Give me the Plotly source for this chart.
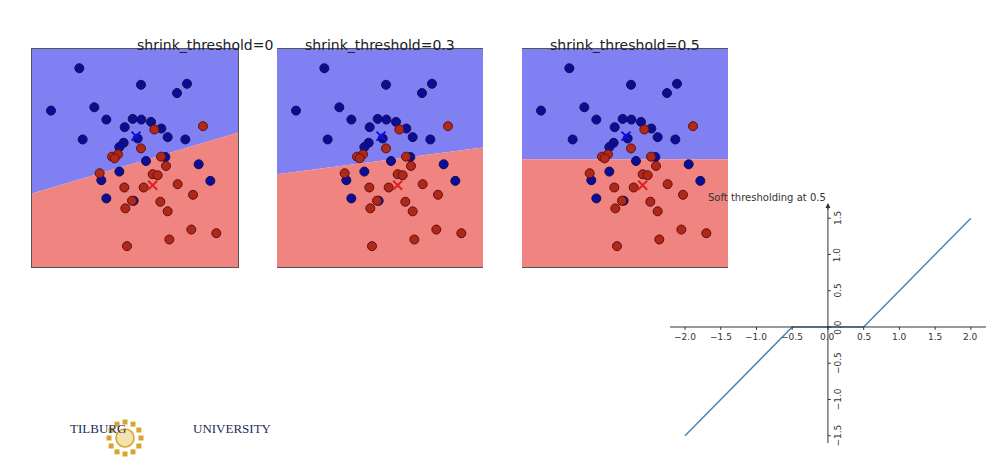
import plotly.graph_objects as go
import math

W, H = 994, 464
titles = ["shrink_threshold=0", "shrink_threshold=0.3", "shrink_threshold=0.5"]
# points in panel units (x 10..628, y 32..690 top-down)
blue_x = [152,337,475,445,67,197,233,312,338,367,288,398,417,162,327,470,285,272,352,410,510,545,272,218,233,315]
blue_y = [90,140,137,165,218,208,245,243,245,252,268,272,298,305,302,305,315,328,370,358,380,430,402,428,483,490]
red_x = [523,377,337,250,268,258,397,412,213,372,387,287,345,447,493,310,395,290,417,488,422,563,295]
red_y = [265,275,332,357,350,362,357,385,407,410,413,450,450,440,472,490,493,513,522,577,607,588,627]
centroid_x = [322, 372]
centroid_y = [295, 443]
# decision boundary y at left / right edge for each panel
bound_left = [468, 410, 365]
bound_right = [285, 329, 365]

soft_x = [-2.0, -0.5, 0.5, 2.0]
soft_y = [-1.5, 0.0, 0.0, 1.5]
xticks = [-2.0, -1.5, -1.0, -0.5, 0.0, 0.5, 1.0, 1.5, 2.0]
yticks = [-1.5, -1.0, -0.5, 0.0, 0.5, 1.0, 1.5]

fig = go.Figure()
panels_px = [(24, 230), (269, 475), (514, 720)]
top_px, bot_px = 41, 259
X0, X1, Y0, Y1 = 10, 628, 32, 690
for i, (l, r) in enumerate(panels_px):
    sx = "" if i == 0 else str(i + 1)
    fig.add_trace(go.Scatter(x=[X0, X1, X1, X0], y=[bound_left[i], bound_right[i], Y0, Y0], fill="toself",
                             fillcolor="#8080f2", line=dict(width=0), mode="lines", hoverinfo="skip",
                             xaxis="x" + sx, yaxis="y" + sx, showlegend=False))
    fig.add_trace(go.Scatter(x=[X0, X1, X1, X0], y=[bound_left[i], bound_right[i], Y1, Y1], fill="toself",
                             fillcolor="#f08480", line=dict(width=0), mode="lines", hoverinfo="skip",
                             xaxis="x" + sx, yaxis="y" + sx, showlegend=False))
    fig.add_trace(go.Scatter(x=blue_x, y=blue_y, mode="markers", xaxis="x" + sx, yaxis="y" + sx,
                             marker=dict(size=9, color="#0c0c96", line=dict(color="#101050", width=1)), showlegend=False))
    fig.add_trace(go.Scatter(x=red_x, y=red_y, mode="markers", xaxis="x" + sx, yaxis="y" + sx,
                             marker=dict(size=9, color="#b02818", line=dict(color="#601010", width=1)), showlegend=False))
    fig.add_trace(go.Scatter(x=centroid_x, y=centroid_y, mode="markers", xaxis="x" + sx, yaxis="y" + sx,
                             marker=dict(size=9, symbol="x-thin", color=["#1010e0", "#e02020"],
                                         line=dict(width=2, color=["#1010e0", "#e02020"])), showlegend=False))
    fig.update_layout(**{
        "xaxis" + sx: dict(domain=[l / W, r / W], range=[X0, X1], showticklabels=False, showgrid=False,
                           zeroline=False, showline=True, mirror=True, linecolor="#555", ticks=""),
        "yaxis" + sx: dict(domain=[1 - bot_px / H, 1 - top_px / H], range=[Y1, Y0], showticklabels=False,
                           showgrid=False, zeroline=False, showline=True, mirror=True, linecolor="#555", ticks=""),
    })
    fig.add_annotation(x=(l + r) / 2 / W, y=1 - 27 / H, xref="paper", yref="paper", text=titles[i],
                       showarrow=False, font=dict(family="DejaVu Sans", size=14, color="#222"))

# soft thresholding plot
xl, xr, yt, yb = 662, 985, 195, 435
fig.add_trace(go.Scatter(x=soft_x, y=soft_y, mode="lines", line=dict(color="#4f86b0", width=1.5),
                         xaxis="x4", yaxis="y4", showlegend=False))
fig.update_layout(
    xaxis4=dict(domain=[xl / W, xr / W], range=[-2.21, 2.31], visible=False),
    yaxis4=dict(domain=[1 - yb / H, 1 - yt / H], range=[-1.6, 1.71], visible=False),
)
ax = dict(xref="x4", yref="y4")
fig.add_shape(type="line", x0=-2.21, x1=2.25, y0=0, y1=0, line=dict(color="#333", width=1), **ax)
fig.add_shape(type="line", x0=0, x1=0, y0=-1.6, y1=1.66, line=dict(color="#333", width=1), **ax)
fig.add_annotation(x=2.31, y=0, ax=2.2, ay=0, axref="x4", ayref="y4", showarrow=True, arrowhead=2,
                   arrowsize=1, arrowwidth=1, arrowcolor="#333", text="", **ax)
fig.add_annotation(x=0, y=1.71, ax=0, ay=1.6, axref="x4", ayref="y4", showarrow=True, arrowhead=2,
                   arrowsize=1, arrowwidth=1, arrowcolor="#333", text="", **ax)
for t in xticks:
    fig.add_shape(type="line", x0=t, x1=t, y0=0, y1=-0.04, line=dict(color="#333", width=1), **ax)
    fig.add_annotation(x=t, y=-0.04, text=f"{t:.1f}".replace("-", "−"), showarrow=False, yanchor="top",
                       font=dict(family="DejaVu Sans", size=9, color="#333"), **ax)
for t in yticks:
    fig.add_shape(type="line", x0=0, x1=0.04, y0=t, y1=t, line=dict(color="#333", width=1), **ax)
    fig.add_annotation(x=0.04, y=t, text=f"{t:.1f}".replace("-", "−"), showarrow=False, xanchor="left",
                       textangle=-90, font=dict(family="DejaVu Sans", size=9, color="#333"), **ax)
fig.add_annotation(x=820 / W, y=1 - 189 / H, xref="paper", yref="paper", text="Soft thresholding at 0.5",
                   showarrow=False, font=dict(family="DejaVu Sans", size=10, color="#333"))

# right slide edge
fig.add_shape(type="line", xref="paper", yref="paper", x0=990 / W, x1=990 / W, y0=0, y1=1,
              line=dict(color="#bbb", width=1))

# logo
fig.add_annotation(x=60 / W, y=1 - 430 / H, xref="paper", yref="paper", text="TILBURG", showarrow=False,
                   font=dict(family="Liberation Serif", size=13, color="#1f2a5c"))
fig.add_annotation(x=183 / W, y=1 - 430 / H, xref="paper", yref="paper", text="UNIVERSITY", showarrow=False,
                   font=dict(family="Liberation Serif", size=13, color="#1f2a5c"))
cx, cy = 117, 430
for k in range(12):
    a = k * math.pi / 6
    px, py = cx + 16 * math.cos(a), cy + 16 * math.sin(a)
    fig.add_shape(type="rect", xref="paper", yref="paper", x0=(px - 2.5) / W, x1=(px + 2.5) / W,
                  y0=1 - (py + 2.5) / H, y1=1 - (py - 2.5) / H, fillcolor="#d9a42a", line=dict(width=0))
fig.add_shape(type="circle", xref="paper", yref="paper", x0=(cx - 9) / W, x1=(cx + 9) / W,
              y0=1 - (cy + 9) / H, y1=1 - (cy - 9) / H, fillcolor="#f4e3b0", line=dict(color="#d9a42a", width=1.5))

fig.update_layout(width=W, height=H, margin=dict(l=0, r=0, t=0, b=0), paper_bgcolor="white",
                  plot_bgcolor="rgba(0,0,0,0)")
fig.write_html("out.html")
